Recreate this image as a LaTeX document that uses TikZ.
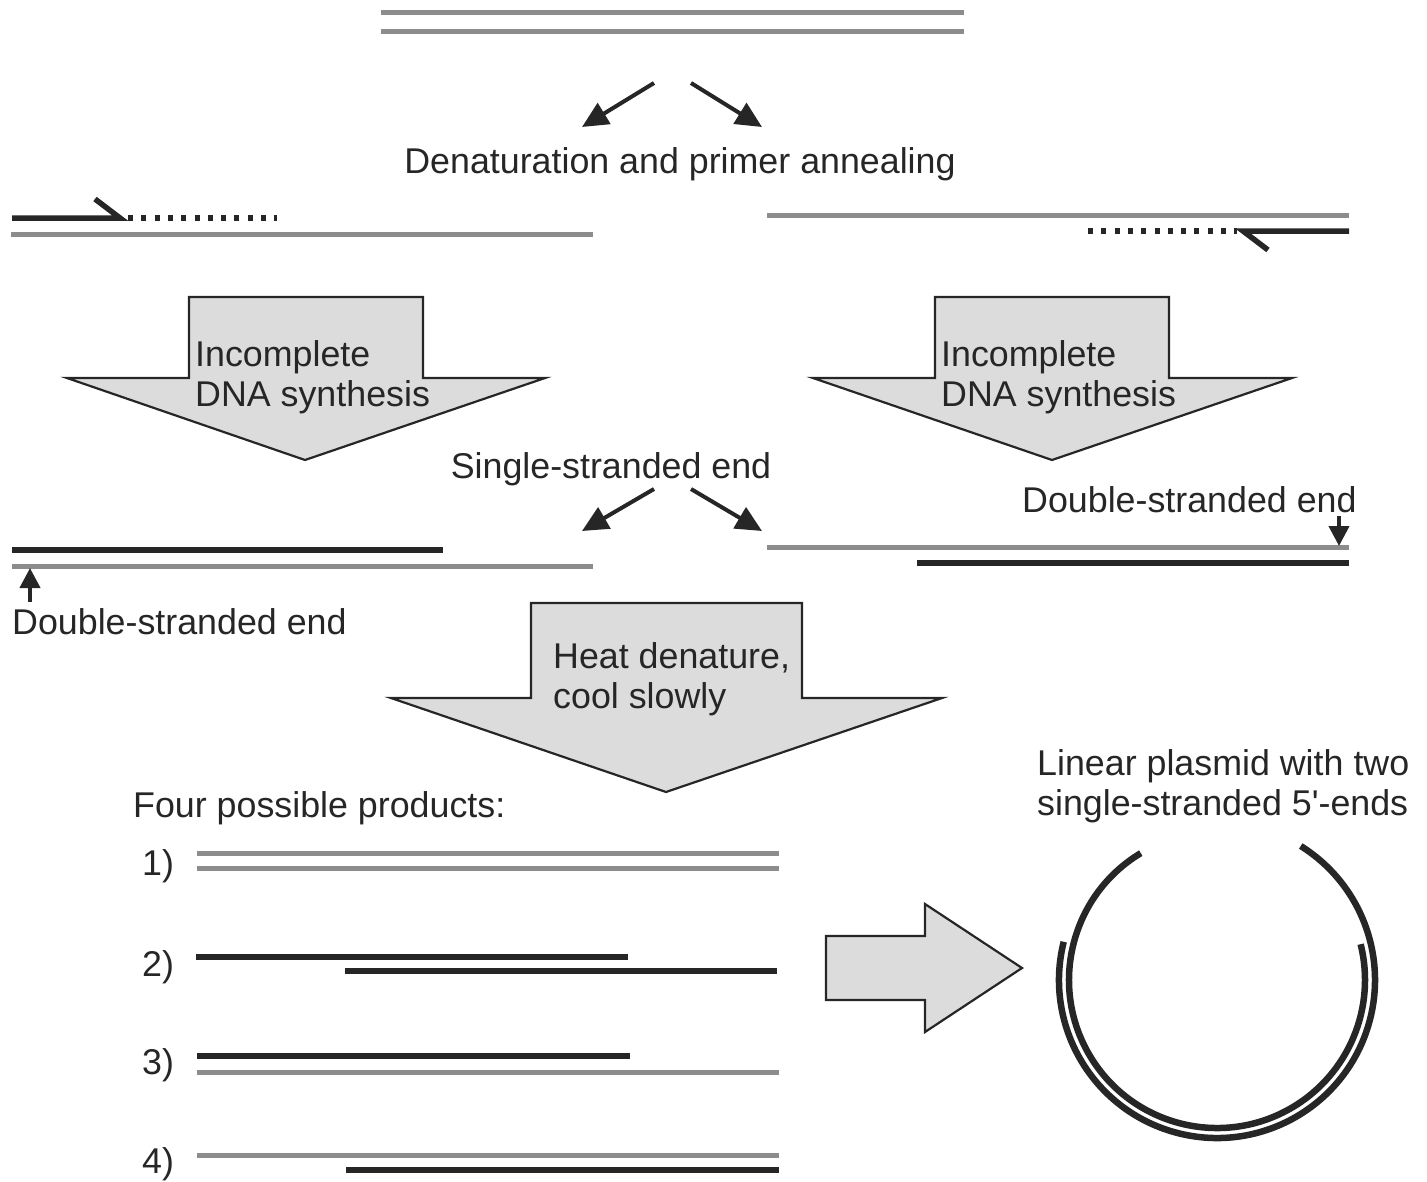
\documentclass[tikz,border=0pt]{standalone}
\usepackage{fontspec}
\setmainfont{Liberation Sans}
\usetikzlibrary{arrows.meta}
\definecolor{strandgray}{HTML}{8C8C8C}
\definecolor{strandblack}{HTML}{262626}
\definecolor{arrowfill}{HTML}{DCDCDC}
\begin{document}
\begin{tikzpicture}[x=1pt,y=-1pt,
  gs/.style={draw=strandgray, line width=5pt},
  bs/.style={draw=strandblack, line width=5.5pt},
  dotstrand/.style={draw=strandblack, line width=5.5pt, dash pattern=on 5pt off 8.3pt},
  lbl/.style={font=\fontsize{35.8}{40}\selectfont, inner sep=0pt, text=strandblack},
  arr/.style={draw=strandblack, line width=4pt, -{Triangle[length=26pt,width=24pt]}},
  smallarr/.style={draw=strandblack, line width=4pt, -{Triangle[length=20pt,width=20pt]}},
  blk/.style={draw=strandblack, line width=2.2pt, fill=arrowfill, line join=miter}]
\useasboundingbox (0,0) rectangle (1427,1181);

% original double strand
\draw[gs] (381,12) -- (964,12);
\draw[gs] (381,31) -- (964,31);

% denaturation arrows
\coordinate (a1s) at (654,83); \coordinate (a1e) at (582,127);
\coordinate (a2s) at (691,83); \coordinate (a2e) at (762,127);
\draw[arr] (a1s) -- (a1e);
\draw[arr] (a2s) -- (a2e);
\node[lbl, anchor=base] (denat) at (680,173) {Denaturation and primer annealing};

% left annealed strand
\draw[bs] (12,218) -- (120,218) -- (95,199);
\draw[dotstrand] (128,218) -- (277,218);
\draw[gs] (11,234) -- (593,234);

% right annealed strand
\draw[gs] (767,215) -- (1349,215);
\draw[bs] (1349,231) -- (1243,231) -- (1268,250);
\draw[dotstrand] (1088,231) -- (1237,231);

% block arrows: incomplete synthesis
\draw[blk] (189,378) -- (189,297) -- (423,297) -- (423,378) -- (545,378) -- (305,460) -- (67,378) -- cycle;
\draw[blk] (935,378) -- (935,297) -- (1169,297) -- (1169,378) -- (1292,378) -- (1052,460) -- (813,378) -- cycle;
\node[lbl, anchor=base west] (inc1a) at (195,366) {Incomplete};
\node[lbl, anchor=base west] (inc1b) at (195,406) {DNA synthesis};
\node[lbl, anchor=base west] (inc2a) at (941,366) {Incomplete};
\node[lbl, anchor=base west] (inc2b) at (941,406) {DNA synthesis};

% single-stranded end arrows
\node[lbl, anchor=base] (ssend) at (611,478) {Single-stranded end};
\coordinate (b1s) at (654,489); \coordinate (b1e) at (582,531);
\coordinate (b2s) at (691,489); \coordinate (b2e) at (762,531);
\draw[arr] (b1s) -- (b1e);
\draw[arr] (b2s) -- (b2e);

% left product of synthesis
\draw[bs] (12,550) -- (443,550);
\draw[gs] (12,566) -- (593,566);
\coordinate (c1s) at (30,602); \coordinate (c1e) at (30,568);
\draw[smallarr] (c1s) -- (c1e);
\node[lbl, anchor=base west] (dsl) at (12,634) {Double-stranded end};

% right product of synthesis
\draw[gs] (767,547) -- (1349,547);
\draw[bs] (917,563) -- (1349,563);
\node[lbl, anchor=base west] (dsr) at (1022,512) {Double-stranded end};
\coordinate (c2s) at (1339,516); \coordinate (c2e) at (1339,546);
\draw[smallarr] (c2s) -- (c2e);

% heat denature arrow
\draw[blk] (531,698) -- (531,603) -- (802,603) -- (802,698) -- (942,698) -- (666,792) -- (391,698) -- cycle;
\node[lbl, anchor=base west] (heat1) at (553,668) {Heat denature,};
\node[lbl, anchor=base west] (heat2) at (553,708) {cool slowly};

% four products
\node[lbl, anchor=base west] (four) at (133,817) {Four possible products:};
\node[lbl, anchor=base west] (p1) at (142,875) {1)};
\node[lbl, anchor=base west] (p2) at (142,976) {2)};
\node[lbl, anchor=base west] (p3) at (142,1074) {3)};
\node[lbl, anchor=base west] (p4) at (142,1173) {4)};

\draw[gs] (197,853) -- (779,853);
\draw[gs] (197,868) -- (779,868);
\draw[bs] (196,957) -- (628,957);
\draw[bs] (345,971) -- (777,971);
\draw[bs] (197,1056) -- (630,1056);
\draw[gs] (197,1072) -- (779,1072);
\draw[gs] (197,1155) -- (779,1155);
\draw[bs] (346,1170) -- (779,1170);

% right block arrow
\draw[blk] (826,1000) -- (826,936) -- (925,936) -- (925,904) -- (1022,968) -- (925,1032) -- (925,1000) -- cycle;

% linear plasmid
\node[lbl, anchor=base west] (lin1) at (1037,775) {Linear plasmid with two};
\node[lbl, anchor=base west] (lin2) at (1037,815) {single-stranded 5\textquotesingle-ends};
\draw[bs, line width=6.5pt] ([shift={(-121:148)}]1217,980) arc[start angle=-121, end angle=-374, radius=148];
\draw[bs, line width=6.5pt] ([shift={(-166:158)}]1217,980) arc[start angle=-166, end angle=-418, radius=158];
\end{tikzpicture}
\end{document}
